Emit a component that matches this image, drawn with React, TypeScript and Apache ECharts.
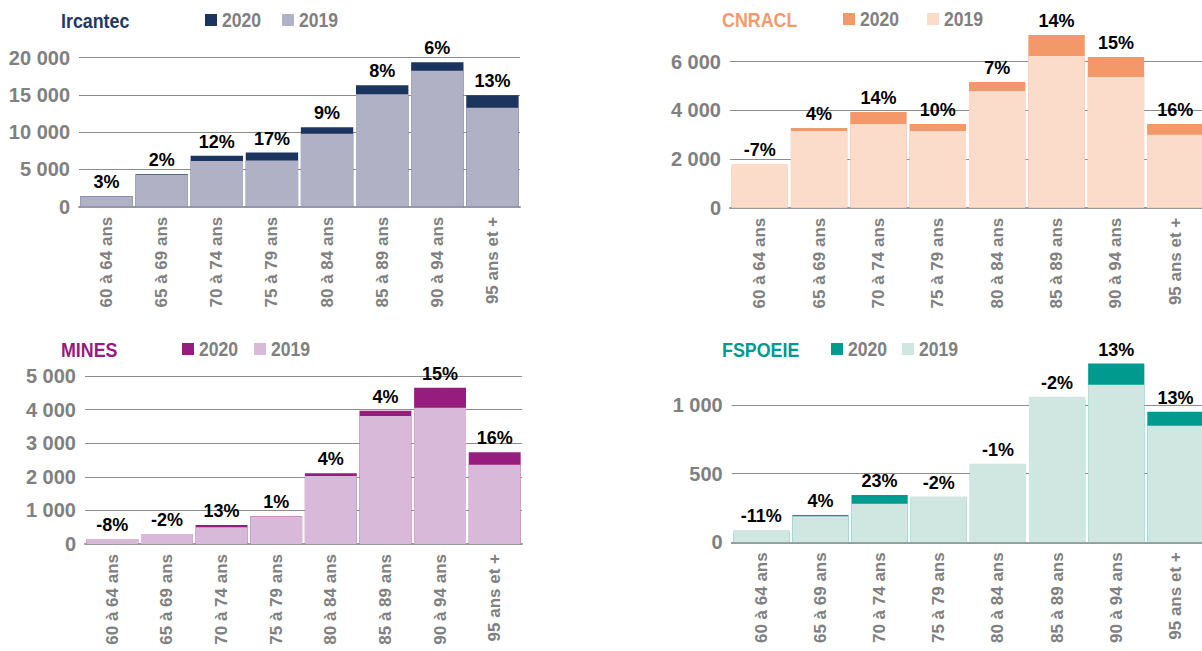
import React, { useEffect, useRef } from "react";
import * as echarts from "echarts";

const categories = ["60 à 64 ans", "65 à 69 ans", "70 à 74 ans", "75 à 79 ans", "80 à 84 ans", "85 à 89 ans", "90 à 94 ans", "95 ans et +"];

const ircantec2019 = [1400, 4260, 6120, 6200, 9800, 15080, 18250, 13290];
const ircantec2020 = [1440, 4345, 6830, 7260, 10650, 16290, 19380, 14950];
const ircantecPct = ["3%", "2%", "12%", "17%", "9%", "8%", "6%", "13%"];

const cnracl2019 = [1800, 3152, 3440, 3152, 4796, 6234, 5372, 3000];
const cnracl2020 = [1675, 3275, 3933, 3440, 5166, 7098, 6194, 3440];
const cnraclPct = ["-7%", "4%", "14%", "10%", "7%", "14%", "15%", "16%"];

const mines2019 = [150, 300, 500, 825, 2024, 3810, 4057, 2360];
const mines2020 = [138, 294, 565, 833, 2104, 3967, 4652, 2729];
const minesPct = ["-8%", "-2%", "13%", "1%", "4%", "4%", "15%", "16%"];

const fspoeie2019 = [90, 190, 280, 333, 572, 1060, 1148, 849];
const fspoeie2020 = [80, 198, 345, 326, 566, 1039, 1302, 951];
const fspoeiePct = ["-11%", "4%", "23%", "-2%", "-1%", "-2%", "13%", "13%"];

const legendNames = ["2020", "2019"];
const yMax = [20000, 6000, 5000, 1000];
const yInterval = [5000, 2000, 1000, 500];

const FONT = "'Liberation Sans', Arial, sans-serif";
const GREY = "#808080";

const panels = [
  { name: "Ircantec", d19: ircantec2019, d20: ircantec2020, pct: ircantecPct, c20: "#1c355e", c19: "#b1b1c6", title: "#1f3864",
    grid: { left: 79, right: 682, top: 57.7, height: 149 }, tx: 61, ty: 20, lx: 205, lx2: 282 },
  { name: "CNRACL", d19: cnracl2019, d20: cnracl2020, pct: cnraclPct, c20: "#f39869", c19: "#fbdcca", title: "#f39a6c",
    grid: { left: 730, right: -3, top: 61.7, height: 146 }, tx: 722, ty: 19, lx: 843, lx2: 927 },
  { name: "MINES", d19: mines2019, d20: mines2020, pct: minesPct, c20: "#961c7e", c19: "#d9b9da", title: "#951b81",
    grid: { left: 85, right: 680, top: 376, height: 168 }, tx: 61, ty: 349, lx: 182, lx2: 254 },
  { name: "FSPOEIE", d19: fspoeie2019, d20: fspoeie2020, pct: fspoeiePct, c20: "#009b8f", c19: "#d0e7e1", title: "#009a8e",
    grid: { left: 731.7, right: -3, top: 405, height: 137.3 }, tx: 722, ty: 349, lx: 831, lx2: 902 },
];

const fmt = (v: number) => String(v).replace(/\B(?=(\d{3})+(?!\d))/g, " ");

export default function App() {
  const ref = useRef<HTMLDivElement>(null);
  useEffect(() => {
    if (!ref.current) return;
    const chart = echarts.init(ref.current, null, { renderer: "svg" });
    const grids: any[] = [];
    const xAxes: any[] = [];
    const yAxes: any[] = [];
    const series: any[] = [];
    const graphics: any[] = [];
    panels.forEach((p, i) => {
      grids.push({ ...p.grid, containLabel: false, outerBoundsMode: "none" });
      xAxes.push({
        type: "category", gridIndex: i, data: categories,
        axisTick: { show: false },
        axisLine: { lineStyle: { color: "#9a9a9a", width: 2 } },
        axisLabel: { rotate: 90, margin: 10, color: GREY, fontFamily: FONT, fontWeight: "bold", fontSize: 17, interval: 0 },
      });
      yAxes.push({
        type: "value", gridIndex: i, min: 0, max: yMax[i], interval: yInterval[i],
        axisLine: { show: false }, axisTick: { show: false },
        splitLine: { lineStyle: { color: "#8c8c8c", width: 1 } },
        axisLabel: { margin: 9, color: GREY, fontFamily: FONT, fontWeight: "bold", fontSize: 20, formatter: fmt },
      });
      const labelStyle = { show: true, position: "top", distance: 5, color: "#000", fontFamily: FONT, fontWeight: "bold", fontSize: 18 };
      const mk = (vals: number[], other: number[], isTop: (a: number, b: number) => boolean) =>
        vals.map((v, k) => (isTop(v, other[k])
          ? { value: v, label: { ...labelStyle, formatter: () => p.pct[k] } }
          : { value: v }));
      series.push({
        name: legendNames[0], type: "bar", xAxisIndex: i, yAxisIndex: i, barWidth: "95%", barGap: "-100%", clip: false,
        itemStyle: { color: p.c20 }, data: mk(p.d20, p.d19, (a, b) => a >= b),
      });
      series.push({
        name: legendNames[1], type: "bar", xAxisIndex: i, yAxisIndex: i, barWidth: "95%", barGap: "-100%", clip: false,
        itemStyle: { color: p.c19 }, data: mk(p.d19, p.d20, (a, b) => a > b),
      });
      const txt = (text: string, x: number, y: number, fill: string, size: number, sx: number) => ({
        type: "text", x, y, scaleX: sx,
        style: { text, fill, font: `bold ${size}px ${FONT}`, textAlign: "left", textVerticalAlign: "middle", align: "left", verticalAlign: "middle" },
      });
      graphics.push(txt(p.name, p.tx, p.ty, p.title, 21, 0.85));
      graphics.push({ type: "rect", shape: { x: p.lx, y: p.ty - 6, width: 12, height: 12 }, style: { fill: p.c20 } });
      graphics.push(txt(legendNames[0], p.lx + 17, p.ty, GREY, 20, 0.88));
      graphics.push({ type: "rect", shape: { x: p.lx2, y: p.ty - 6, width: 12, height: 12 }, style: { fill: p.c19 } });
      graphics.push(txt(legendNames[1], p.lx2 + 17, p.ty, GREY, 20, 0.88));
    });
    chart.setOption({
      animation: false,
      backgroundColor: "#ffffff",
      grid: grids,
      xAxis: xAxes,
      yAxis: yAxes,
      series,
      graphic: graphics,
    });
    return () => chart.dispose();
  }, []);
  return <div ref={ref} style={{ position: "absolute", left: 0, top: 0, width: 1202, height: 651 }} />;
}
